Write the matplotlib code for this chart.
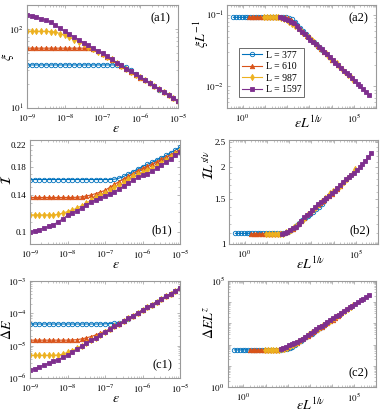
import numpy as np
import matplotlib
matplotlib.use('Agg')
import matplotlib.pyplot as plt
from matplotlib.ticker import FixedLocator, NullFormatter, FixedFormatter

plt.rcParams['font.family'] = 'Liberation Serif'
plt.rcParams['mathtext.fontset'] = 'stix'

# driving strength grid (log10 of epsilon)
eps_exp = [-9.0, -8.875, -8.75, -8.625, -8.5, -8.375, -8.25, -8.125,
           -8.0, -7.875, -7.75, -7.625, -7.5, -7.375, -7.25, -7.125,
           -7.0, -6.875, -6.75, -6.625, -6.5, -6.375, -6.25, -6.125,
           -6.0, -5.875, -5.75, -5.625, -5.5, -5.375, -5.25, -5.125, -5.0]

sizes = [377, 610, 987, 1597]
labels = ['L = 377', 'L = 610', 'L = 987', 'L = 1597']

# critical exponents used for the collapse
nu = 0.3
s_over_nu = 0.324
z = 2.36

# correlation length xi
xi_377 = [35, 35, 35, 35, 35, 35, 35, 35, 35, 35, 35, 35, 35, 35, 35, 35,
          35, 35, 35, 35, 34.5, 33, 30, 27, 24.5, 22.3, 20.4, 18.7, 17.1,
          15.7, 14.4, 13.2, 12.1]
xi_610 = [57, 57, 57, 57, 57, 57, 57, 57, 57, 57, 57, 57, 57, 56.5, 55,
          52, 48, 44, 40.5, 37, 34, 31.2, 28.7, 26.3, 24.2, 22.4, 20.5,
          18.8, 17.2, 15.8, 14.5, 13.3, 12.2]
xi_987 = [93, 93, 93, 93, 93, 92.5, 91, 87, 83, 78, 73, 68.5, 64, 59.5,
          55.5, 51.5, 48, 44.3, 41, 37.5, 34.3, 31.4, 28.8, 26.4, 24.3,
          22.6, 20.7, 18.9, 17.3, 15.9, 14.5, 13.3, 12.2]
xi_1597 = [151, 147, 141, 135, 128, 122, 112, 101, 93, 86, 79, 72.5, 67,
           62, 57, 53, 49, 45, 41.5, 37.5, 34.5, 31.5, 29, 26.5, 24.5,
           22.8, 20.8, 19, 17.4, 16, 14.6, 13.4, 12.3]

# quantity I
I_377 = [0.161, 0.161, 0.161, 0.161, 0.161, 0.161, 0.161, 0.161, 0.161,
         0.161, 0.161, 0.161, 0.161, 0.161, 0.161, 0.161, 0.161, 0.161,
         0.1615, 0.163, 0.1655, 0.169, 0.173, 0.177, 0.181, 0.1845, 0.188,
         0.192, 0.196, 0.200, 0.205, 0.210, 0.2155]
I_610 = [0.137, 0.137, 0.137, 0.137, 0.137, 0.137, 0.137, 0.137, 0.137,
         0.137, 0.1372, 0.1378, 0.1388, 0.140, 0.1418, 0.1438, 0.146, 0.150,
         0.154, 0.158, 0.162, 0.166, 0.170, 0.1745, 0.178, 0.1815, 0.185,
         0.189, 0.193, 0.197, 0.2015, 0.206, 0.211]
I_987 = [0.117, 0.117, 0.117, 0.117, 0.117, 0.117, 0.1175, 0.119, 0.1205,
         0.122, 0.1245, 0.127, 0.130, 0.1335, 0.137, 0.140, 0.143, 0.1465,
         0.150, 0.1535, 0.1575, 0.1615, 0.1655, 0.169, 0.172, 0.175, 0.1785,
         0.1825, 0.187, 0.1915, 0.197, 0.2025, 0.2095]
I_1597 = [0.1005, 0.1015, 0.1025, 0.104, 0.1055, 0.107, 0.110, 0.113,
          0.1165, 0.119, 0.1215, 0.1245, 0.128, 0.1315, 0.134, 0.1365,
          0.1385, 0.141, 0.1445, 0.148, 0.152, 0.156, 0.1605, 0.164, 0.167,
          0.170, 0.1735, 0.178, 0.183, 0.188, 0.194, 0.200, 0.207]

# energy gap Delta E
dE_377 = [4.68e-5, 4.68e-5, 4.68e-5, 4.68e-5, 4.68e-5, 4.68e-5, 4.68e-5,
          4.68e-5, 4.68e-5, 4.68e-5, 4.68e-5, 4.68e-5, 4.68e-5, 4.68e-5,
          4.68e-5, 4.68e-5, 4.73e-5, 4.79e-5, 4.90e-5, 5.13e-5, 5.62e-5,
          6.61e-5, 8.13e-5, 1.05e-4, 1.26e-4, 1.55e-4, 1.86e-4, 2.29e-4,
          2.75e-4, 3.39e-4, 4.07e-4, 5.01e-4, 6.03e-4]
dE_610 = [1.48e-5, 1.48e-5, 1.48e-5, 1.48e-5, 1.48e-5, 1.48e-5, 1.48e-5,
          1.48e-5, 1.48e-5, 1.50e-5, 1.53e-5, 1.62e-5, 1.74e-5, 1.91e-5,
          2.14e-5, 2.45e-5, 2.79e-5, 3.24e-5, 3.98e-5, 4.79e-5, 5.89e-5,
          7.08e-5, 8.51e-5, 1.05e-4, 1.26e-4, 1.55e-4, 1.86e-4, 2.29e-4,
          2.75e-4, 3.39e-4, 4.07e-4, 5.01e-4, 6.03e-4]
dE_987 = [5.01e-6, 5.01e-6, 5.01e-6, 5.01e-6, 5.01e-6, 5.01e-6, 5.13e-6,
          5.50e-6, 6.17e-6, 7.08e-6, 8.32e-6, 1.00e-5, 1.20e-5, 1.45e-5,
          1.78e-5, 2.19e-5, 2.69e-5, 3.24e-5, 3.98e-5, 4.79e-5, 5.89e-5,
          7.08e-5, 8.51e-5, 1.05e-4, 1.26e-4, 1.55e-4, 1.86e-4, 2.29e-4,
          2.75e-4, 3.39e-4, 4.07e-4, 5.01e-4, 6.03e-4]
dE_1597 = [1.72e-6, 1.95e-6, 2.22e-6, 2.51e-6, 2.88e-6, 3.24e-6, 3.72e-6,
           4.37e-6, 5.13e-6, 6.31e-6, 7.76e-6, 9.55e-6, 1.17e-5, 1.45e-5,
           1.78e-5, 2.19e-5, 2.69e-5, 3.24e-5, 3.98e-5, 4.79e-5, 5.89e-5,
           7.08e-5, 8.51e-5, 1.05e-4, 1.26e-4, 1.55e-4, 1.86e-4, 2.29e-4,
           2.75e-4, 3.39e-4, 4.07e-4, 5.01e-4, 6.03e-4]

colors = ['#0072BD', '#D95319', '#EDB120', '#7E2F8E']
markers = ['o', '^', 'd', 's']

eps = 10.0 ** np.array(eps_exp)
xi_all = [xi_377, xi_610, xi_987, xi_1597]
I_all = [I_377, I_610, I_987, I_1597]
dE_all = [dE_377, dE_610, dE_987, dE_1597]

W, H = 382, 412
fig = plt.figure(figsize=(W / 100, H / 100), dpi=100)


def add_ax(left, right, top, bottom):
    return fig.add_axes([left / W, 1 - bottom / H, (right - left) / W, (bottom - top) / H])


def fig_label(px, py, s, rot=0):
    # axis labels placed by pixel position, as in the source figure
    fig.text(px / W, 1 - py / H, s, ha='center', va='center', rotation=rot, fontsize=10)


def style(ax):
    for sp in ax.spines.values():
        sp.set_color('#9a9a9a')
        sp.set_linewidth(0.8)
    ax.tick_params(which='both', direction='in', top=True, right=True,
                   colors='#9a9a9a', labelcolor='black', labelsize=6.5)
    ax.tick_params(axis='x', pad=3.5)
    ax.tick_params(axis='y', pad=2.5)
    ax.tick_params(which='major', length=2.5, width=0.5)
    ax.tick_params(which='minor', length=1.3, width=0.4)


def draw(ax, xs, ys):
    for x, y, c, m, lab in zip(xs, ys, colors, markers, labels):
        fc = 'none' if m == 'o' else c
        ax.plot(x, y, '-', color=c, lw=0.8, marker=m, ms=3.2, mfc=fc,
                mec=c, mew=0.6, label=lab)


def log_ticks(ax, axis, majors, lab_vals, lims):
    lo, hi = lims
    decs = range(int(np.floor(np.log10(lo))), int(np.ceil(np.log10(hi))) + 1)
    minors = [m * 10.0 ** d for d in decs for m in range(2, 10)]
    texts = []
    for v in majors:
        e = int(round(np.log10(v)))
        texts.append(r'$10^{%d}$' % e if v in lab_vals else '')
    a = ax.xaxis if axis == 'x' else ax.yaxis
    a.set_major_locator(FixedLocator(majors))
    a.set_major_formatter(FixedFormatter(texts))
    a.set_minor_locator(FixedLocator([t for t in minors if lo <= t <= hi]))
    a.set_minor_formatter(NullFormatter())


eps_ticks = [1e-9, 1e-8, 1e-7, 1e-6, 1e-5]
big_ticks = [10.0 ** k for k in range(-1, 7)]
big_lim = (10 ** -0.7, 1e6)

# (a1)
ax = add_ax(27, 178, 5, 108)
draw(ax, [eps] * 4, xi_all)
ax.set_xscale('log'); ax.set_yscale('log')
ax.set_xlim(1e-9, 1e-5); ax.set_ylim(10, 200)
log_ticks(ax, 'x', eps_ticks, eps_ticks, (1e-9, 1e-5))
log_ticks(ax, 'y', [10, 100], [10, 100], (10, 200))
ax.text(0.95, 0.93, '(a1)', transform=ax.transAxes, ha='right', va='top', fontsize=9)
style(ax)
fig_label(8, 57, r'$\xi$', 90)
fig_label(116, 128, r'$\varepsilon$')

# (a2)
ax = add_ax(227, 376, 5, 108)
xs = [eps * L ** (1 / nu) for L in sizes]
ys = [np.array(v) / L for v, L in zip(xi_all, sizes)]
draw(ax, xs, ys)
ax.set_xscale('log'); ax.set_yscale('log')
ax.set_xlim(*big_lim); ax.set_ylim(0.005, 0.138)
log_ticks(ax, 'x', big_ticks, [1, 1e5], big_lim)
log_ticks(ax, 'y', [0.01, 0.1], [0.01, 0.1], (0.005, 0.138))
ax.text(0.95, 0.93, '(a2)', transform=ax.transAxes, ha='right', va='top', fontsize=9)
leg = ax.legend(loc='lower left', bbox_to_anchor=(0.05, 0.06), fontsize=7,
                handlelength=2.0, borderpad=0.3, labelspacing=0.25,
                handletextpad=0.4, fancybox=False, edgecolor='#555555', framealpha=1)
leg.get_frame().set_linewidth(0.6)
style(ax)
fig_label(201, 34, r'$\xi L^{-1}$', 90)
fig_label(309, 123, r'$\varepsilon L^{1/\nu}$')

# (b1)
ax = add_ax(30, 180, 140, 244)
draw(ax, [eps] * 4, I_all)
ax.set_xscale('log'); ax.set_yscale('log')
ax.set_xlim(1e-9, 1e-5); ax.set_ylim(0.09, 0.23)
log_ticks(ax, 'x', eps_ticks, eps_ticks, (1e-9, 1e-5))
ax.yaxis.set_major_locator(FixedLocator([0.1, 0.14, 0.18, 0.22]))
ax.yaxis.set_major_formatter(FixedFormatter(['0.1', '0.14', '0.18', '0.22']))
ax.yaxis.set_minor_locator(FixedLocator([0.09, 0.11, 0.12, 0.13, 0.15, 0.16, 0.17, 0.19, 0.2, 0.21, 0.23]))
ax.yaxis.set_minor_formatter(NullFormatter())
ax.text(0.95, 0.07, '(b1)', transform=ax.transAxes, ha='right', va='bottom', fontsize=9)
style(ax)
fig_label(7, 180, r'$\mathcal{I}$', 90)
fig_label(116, 264, r'$\varepsilon$')

# (b2)
ax = add_ax(229, 378, 140, 244)
ys = [np.array(v) * L ** s_over_nu for v, L in zip(I_all, sizes)]
draw(ax, xs, ys)
ax.set_xscale('log'); ax.set_yscale('log')
ax.set_xlim(*big_lim); ax.set_ylim(1.0, 2.55)
log_ticks(ax, 'x', big_ticks, [1, 1e5], big_lim)
ax.yaxis.set_major_locator(FixedLocator([1, 1.5, 2, 2.5]))
ax.yaxis.set_major_formatter(FixedFormatter(['1', '1.5', '2', '2.5']))
ax.yaxis.set_minor_locator(FixedLocator([1.1, 1.2, 1.3, 1.4, 1.6, 1.7, 1.8, 1.9, 2.1, 2.2, 2.3, 2.4]))
ax.yaxis.set_minor_formatter(NullFormatter())
ax.text(0.95, 0.07, '(b2)', transform=ax.transAxes, ha='right', va='bottom', fontsize=9)
style(ax)
fig_label(209, 165, r'$\mathcal{I} L^{s/\nu}$', 90)
fig_label(311, 264, r'$\varepsilon L^{1/\nu}$')

# (c1)
ax = add_ax(30, 180, 281, 378)
draw(ax, [eps] * 4, dE_all)
ax.set_xscale('log'); ax.set_yscale('log')
ax.set_xlim(1e-9, 1e-5); ax.set_ylim(1e-6, 1e-3)
log_ticks(ax, 'x', eps_ticks, eps_ticks, (1e-9, 1e-5))
log_ticks(ax, 'y', [1e-6, 1e-5, 1e-4, 1e-3], [1e-6, 1e-5, 1e-4, 1e-3], (1e-6, 1e-3))
ax.text(0.95, 0.07, '(c1)', transform=ax.transAxes, ha='right', va='bottom', fontsize=9)
style(ax)
fig_label(7, 330, r'$\Delta E$', 90)
fig_label(116, 398, r'$\varepsilon$')

# (c2)
ax = add_ax(228, 376, 281, 387)
ys = [np.array(v) * L ** z for v, L in zip(dE_all, sizes)]
draw(ax, xs, ys)
ax.set_xscale('log'); ax.set_yscale('log')
ax.set_xlim(*big_lim); ax.set_ylim(1, 1e5)
log_ticks(ax, 'x', big_ticks, [1, 1e5], big_lim)
log_ticks(ax, 'y', [1, 10, 100, 1e3, 1e4, 1e5], [1, 1e5], (1, 1e5))
ax.text(0.95, 0.07, '(c2)', transform=ax.transAxes, ha='right', va='bottom', fontsize=9)
style(ax)
fig_label(209, 322, r'$\Delta E L^{z}$', 90)
fig_label(311, 405, r'$\varepsilon L^{1/\nu}$')

fig.savefig('out.png', dpi=100)
